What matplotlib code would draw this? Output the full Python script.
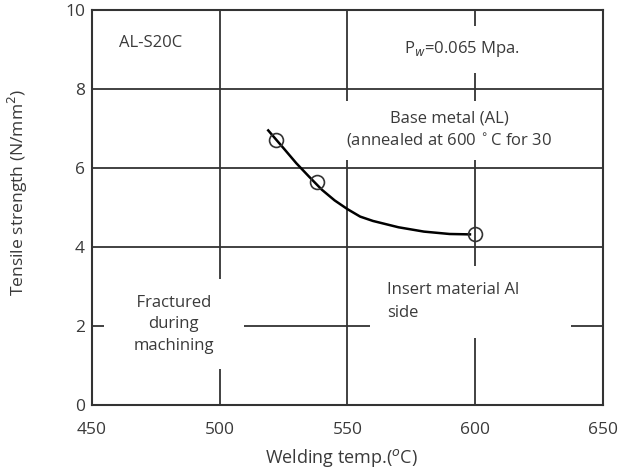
import matplotlib.pyplot as plt

plt.rcParams['font.family'] = ['Open Sans', 'DejaVu Sans']

# measured points (open circles)
temp_pts = [522, 538, 600]
strength_pts = [6.7, 5.65, 4.33]

# fitted curve
curve_temp = [519, 525, 530, 535, 540, 545, 550, 555, 560, 570, 580, 590, 598]
curve_strength = [6.95, 6.5, 6.12, 5.78, 5.45, 5.18, 4.96, 4.77, 4.66, 4.5, 4.39, 4.33, 4.32]

x_ticks = [450, 500, 550, 600, 650]
y_ticks = [0, 2, 4, 6, 8, 10]

fig = plt.figure(figsize=(6.22, 4.70), dpi=100)
ax = fig.add_axes([0.148, 0.138, 0.821, 0.841])

ax.set_xlim(450, 650)
ax.set_ylim(0, 10)
ax.set_xticks(x_ticks)
ax.set_yticks(y_ticks)
ax.tick_params(length=0, labelsize=12.5, colors='#3a3a3a')
ax.tick_params(axis='x', pad=12)
ax.tick_params(axis='y', pad=5)
ax.grid(True, color='#333333', linewidth=1.3, zorder=0)
ax.set_axisbelow(True)
for s in ax.spines.values():
    s.set_color('#333333')
    s.set_linewidth(1.5)
    s.set_zorder(5)

ax.plot(curve_temp, curve_strength, color='black', linewidth=1.8, zorder=3)
ax.plot(temp_pts, strength_pts, linestyle='none', marker='o', markersize=10,
        markerfacecolor='none', markeredgecolor='#333333', markeredgewidth=1.2, zorder=4)

fs = 12
tc = '#3a3a3a'
white = dict(facecolor='white', edgecolor='none')
ax.text(473, 9.15, 'AL-S20C', ha='center', va='center', fontsize=fs, color=tc)
ax.text(595, 9.0, 'P$_w$=0.065 Mpa.', ha='center', va='center', fontsize=fs,
        color=tc, bbox=dict(white, pad=10))
ax.text(590, 6.95, 'Base metal (AL)\n(annealed at 600$\\,^\\circ$C for 30',
        ha='center', va='center', fontsize=fs, color=tc, linespacing=1.35,
        bbox=dict(white, pad=7))
ax.text(482, 2.05, '    Fractured    \nduring\nmachining', ha='center', va='center',
        fontsize=fs, color=tc, linespacing=1.45, bbox=dict(white, pad=11))
ax.text(565.5, 2.62, 'Insert material Al        \nside', ha='left', va='center',
        fontsize=fs, color=tc, linespacing=1.55, bbox=dict(white, pad=12))

ax.set_xlabel('Welding temp.($^{o}$C)', fontsize=13, color=tc)
ax.set_ylabel('Tensile strength (N/mm$^{2}$)', fontsize=12.6, color=tc)
ax.xaxis.set_label_coords(0.489, -0.106)
ax.yaxis.set_label_coords(-0.122, 0.539)

fig.savefig('out.png', dpi=100)
